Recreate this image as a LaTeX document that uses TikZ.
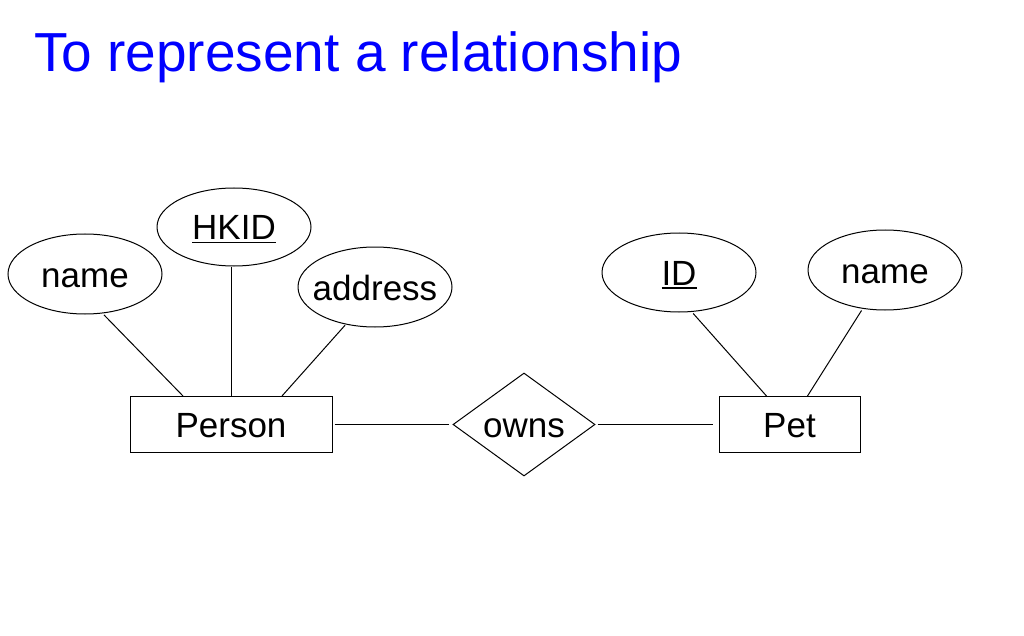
\documentclass[tikz,border=0pt]{standalone}
\usepackage{fontspec}
\setmainfont{Liberation Sans}
\usetikzlibrary{positioning,shapes.geometric}
\definecolor{titleblue}{HTML}{0000FF}
\newcommand{\keyattr}[1]{\setbox0\hbox{#1}\rlap{\rule[-3.5pt]{\wd0}{2pt}}\box0}

\begin{document}
\begin{tikzpicture}[x=1pt,y=-1pt,
  font=\fontsize{35}{42}\selectfont,
  ent/.style={draw,line width=1pt,rectangle,minimum height=56pt,inner sep=0pt,text height=31pt,text depth=5pt},
  att/.style={draw,line width=1pt,ellipse,minimum width=154pt,minimum height=80pt,inner xsep=-25pt,inner ysep=0pt,text height=31pt,text depth=5pt},
  rel/.style={draw,line width=1pt,diamond,minimum width=142pt,minimum height=103pt,inner xsep=-15pt,inner ysep=0pt,text height=31pt,text depth=5pt},
  ln/.style={line width=1pt}]
\useasboundingbox (0,0) rectangle (1024,636);
\node[anchor=base west,inner sep=0pt,text=titleblue,font=\fontsize{55}{60}\selectfont] (title) at (34,72) {To represent a relationship};
% entities and relationship
\node[ent,minimum width=202pt] (person) at (231,424.5) {Person};
\node[rel,right=120pt of person] (owns) {owns};
\node[ent,minimum width=141pt,right=123pt of owns] (pet) {Pet};
% attributes
\node[att] (pname) at (85,274) {name};
\node[att,minimum height=78pt] (hkid) at (234,227) {\keyattr{HKID}};
\node[att] (addr) at (375,287) {address};
\node[att,minimum height=79pt] (id) at (679,272.5) {\keyattr{ID}};
\node[att] (petname) at (885,270) {name};
\draw[ln,shorten <=2pt] (pname.-66) -- ([xshift=-48pt]person.north);
\draw[ln] (hkid.south -| person.north) -- (person.north);
\draw[ln,shorten <=1pt] (addr.-128) -- ([xshift=51pt]person.north);
\draw[ln,shorten <=2pt,shorten >=4pt] (person.east) -- (owns.west);
\draw[ln,shorten <=2pt,shorten >=6pt] (owns.east) -- (pet.west);
\draw[ln,shorten <=2pt] (id.-72) -- ([xshift=-23pt]pet.north);
\draw[ln,shorten <=2pt] (petname.-120) -- ([xshift=18pt]pet.north);
\end{tikzpicture}
\end{document}
